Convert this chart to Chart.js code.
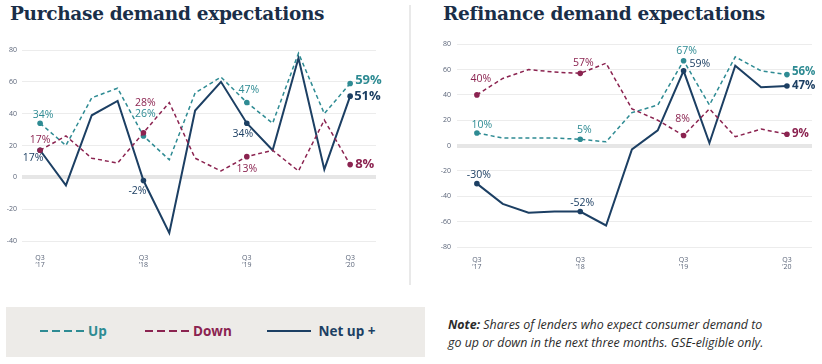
<!DOCTYPE html>
<html>
<head>
<meta charset="utf-8">
<script src="https://cdn.jsdelivr.net/npm/chart.js@4/dist/chart.umd.min.js"></script>
<style>
  body { margin: 0; width: 822px; height: 364px; background: #fff; position: relative; overflow: hidden; font-family: "Open Sans", sans-serif; }
  .title { position: absolute; top: 3px; font-family: "DejaVu Serif", serif; font-weight: bold; font-size: 18.5px; color: #1a2e48; letter-spacing: -0.3px; }
  .divider { position: absolute; left: 409px; top: 5px; width: 2px; height: 280px; background: #e9e9e9; }
  .box { position: absolute; }
  .legend { position: absolute; left: 6px; top: 307px; width: 419px; height: 50px; background: #edebe8; }
  .legend .item { position: absolute; top: 15px; font-weight: bold; font-size: 13.5px; display: flex; align-items: center; }
  .legend svg { margin-right: 2px; }
  .note { position: absolute; left: 448px; top: 316px; font-size: 12.4px; line-height: 18px; font-style: italic; color: #2b2b2b; }
</style>
</head>
<body>
<div class="title" style="left:10px">Purchase demand expectations</div>
<div class="title" style="left:443px">Refinance demand expectations</div>
<div class="divider"></div>

<div class="box" style="left:0;top:40px;width:405px;height:240px"><canvas id="purchaseChart" width="405" height="240"></canvas></div>
<div class="box" style="left:420px;top:34px;width:402px;height:250px"><canvas id="refiChart" width="402" height="250"></canvas></div>

<div class="legend">
  <div class="item" style="left:34px;color:#2e8b93"><svg width="46" height="4"><line x1="0" y1="2" x2="46" y2="2" stroke="#2e8b93" stroke-width="2" stroke-dasharray="8 4"/></svg>Up</div>
  <div class="item" style="left:139px;color:#8b2350"><svg width="46" height="4"><line x1="0" y1="2" x2="46" y2="2" stroke="#8b2350" stroke-width="2" stroke-dasharray="8 4"/></svg>Down</div>
  <div class="item" style="left:261px;color:#1c3f63"><svg width="46" height="4"><line x1="0" y1="2" x2="44" y2="2" stroke="#1c3f63" stroke-width="2"/></svg>&nbsp;Net up +</div>
</div>

<div class="note"><b>Note:</b> Shares of lenders who expect consumer demand to<br>go up or down in the next three months. GSE-eligible only.</div>

<script>
// Quarters Q3 '17 .. Q3 '20
const quarters = ["Q3 '17", "Q4 '17", "Q1 '18", "Q2 '18", "Q3 '18", "Q4 '18", "Q1 '19", "Q2 '19", "Q3 '19", "Q4 '19", "Q1 '20", "Q2 '20", "Q3 '20"];
const tickQuarters = [0, 4, 8, 12];
const tickLabels = [["Q3", "’17"], ["Q3", "’18"], ["Q3", "’19"], ["Q3", "’20"]];

// Purchase demand (%)
const purchaseUp = [34, 20, 50, 56, 26, 11, 53, 63, 47, 34, 78, 40, 59];
const purchaseDown = [17, 26, 12, 9, 28, 47, 12, 4, 13, 17, 4, 36, 8];
const purchaseNet = [17, -5, 39, 48, -2, -35, 42, 60, 34, 17, 75, 5, 51];

// Refinance demand (%)
const refiUp = [10, 6, 6, 6, 5, 3, 26, 32, 67, 32, 70, 59, 56];
const refiDown = [40, 53, 60, 58, 57, 65, 29, 20, 8, 29, 7, 13, 9];
const refiNet = [-30, -46, -53, -52, -52, -63, -3, 12, 59, 2, 63, 46, 47];

const TEAL = '#2e8b93';
const MAROON = '#8b2350';
const NAVY = '#1c3f63';

// labelled points get a dot
const markedPoints = [0, 4, 8, 12];

function toPoints(values) {
  return values.map((v, i) => ({ x: i, y: v }));
}

function makeDataset(label, values, color, dashed) {
  return {
    label,
    data: toPoints(values),
    borderColor: color,
    backgroundColor: color,
    borderWidth: dashed ? 1.5 : 2,
    borderDash: dashed ? [4, 3] : [],
    tension: 0,
    pointRadius: ctx => markedPoints.includes(ctx.dataIndex) ? 2.8 : 0,
    pointBorderWidth: 0,
    clip: false
  };
}

// Draw the % labels next to points
const pointLabels = {
  id: 'pointLabels',
  afterDatasetsDraw(chart, args, opts) {
    const ctx = chart.ctx;
    ctx.save();
    opts.items.forEach(it => {
      const pt = chart.getDatasetMeta(it.ds).data[it.i];
      ctx.font = it.big ? `bold ${opts.bigSize}px "Open Sans"` : '10.5px "Open Sans"';
      ctx.fillStyle = chart.data.datasets[it.ds].borderColor;
      ctx.textAlign = it.left ? 'left' : 'center';
      ctx.textBaseline = 'middle';
      ctx.fillText(it.text, pt.x + it.dx, pt.y + it.dy);
    });
    ctx.restore();
  }
};

function makeScales(yMin, yMax, yWidth, yPad, xMin, xMax, xHeight, xPad) {
  return {
    x: {
      type: 'linear',
      min: xMin,
      max: xMax,
      afterBuildTicks: scale => { scale.ticks = tickQuarters.map(v => ({ value: v })); },
      afterFit: scale => { scale.height = xHeight; },
      ticks: {
        autoSkip: false,
        maxRotation: 0,
        padding: xPad,
        font: { family: 'Open Sans', size: 7, lineHeight: 1.05 },
        color: '#5a6478',
        callback: (val, idx) => tickLabels[idx]
      },
      grid: { display: false },
      border: { display: false }
    },
    y: {
      min: yMin,
      max: yMax,
      afterFit: scale => { scale.width = yWidth; },
      ticks: {
        stepSize: 20,
        padding: yPad,
        font: { family: 'Open Sans', size: 7 },
        color: '#5a6478'
      },
      grid: {
        drawTicks: false,
        color: ctx => ctx.tick && ctx.tick.value === 0 ? '#e6e6e6' : '#ececec',
        lineWidth: ctx => ctx.tick && ctx.tick.value === 0 ? 4 : 1
      },
      border: { display: false }
    }
  };
}

new Chart(document.getElementById('purchaseChart'), {
  type: 'line',
  data: {
    datasets: [
      makeDataset('Down', purchaseDown, MAROON, true),
      makeDataset('Up', purchaseUp, TEAL, true),
      makeDataset('Net up +', purchaseNet, NAVY, false)
    ]
  },
  options: {
    responsive: false,
    animation: false,
    layout: { padding: { top: 10, right: 29, left: 0, bottom: 0 } },
    scales: makeScales(-40, 80, 22, 5, -0.7, 13.0, 39, 5),
    plugins: {
      legend: { display: false },
      tooltip: { enabled: false },
      pointLabels: {
        bigSize: 13,
        items: [
          { ds: 1, i: 0, text: '34%', dx: 3, dy: -8 },
          { ds: 1, i: 4, text: '26%', dx: 2, dy: -22 },
          { ds: 1, i: 8, text: '47%', dx: 2, dy: -13 },
          { ds: 1, i: 12, text: '59%', dx: 5, dy: -3, left: true, big: true },
          { ds: 0, i: 0, text: '17%', dx: 0, dy: -10 },
          { ds: 0, i: 4, text: '28%', dx: 2, dy: -30 },
          { ds: 0, i: 8, text: '13%', dx: 0, dy: 12 },
          { ds: 0, i: 12, text: '8%', dx: 5, dy: 0, left: true, big: true },
          { ds: 2, i: 0, text: '17%', dx: -7, dy: 8 },
          { ds: 2, i: 4, text: '-2%', dx: -6, dy: 10 },
          { ds: 2, i: 8, text: '34%', dx: -4, dy: 11 },
          { ds: 2, i: 12, text: '51%', dx: 4, dy: 0, left: true, big: true }
        ]
      }
    }
  },
  plugins: [pointLabels]
});

new Chart(document.getElementById('refiChart'), {
  type: 'line',
  data: {
    datasets: [
      makeDataset('Down', refiDown, MAROON, true),
      makeDataset('Up', refiUp, TEAL, true),
      makeDataset('Net up +', refiNet, NAVY, false)
    ]
  },
  options: {
    responsive: false,
    animation: false,
    layout: { padding: { top: 10, right: 10, left: 0, bottom: 0 } },
    scales: makeScales(-80, 80, 37, 6, -0.77, 12.97, 37, 1),
    plugins: {
      legend: { display: false },
      tooltip: { enabled: false },
      pointLabels: {
        bigSize: 11.5,
        items: [
          { ds: 1, i: 0, text: '10%', dx: 5, dy: -8 },
          { ds: 1, i: 4, text: '5%', dx: 4, dy: -9 },
          { ds: 1, i: 8, text: '67%', dx: 3, dy: -10 },
          { ds: 1, i: 12, text: '56%', dx: 5, dy: -3, left: true, big: true },
          { ds: 0, i: 0, text: '40%', dx: 4, dy: -16 },
          { ds: 0, i: 4, text: '57%', dx: 3, dy: -10 },
          { ds: 0, i: 8, text: '8%', dx: -1, dy: -16 },
          { ds: 0, i: 12, text: '9%', dx: 5, dy: 0, left: true, big: true },
          { ds: 2, i: 0, text: '-30%', dx: 2, dy: -9 },
          { ds: 2, i: 4, text: '-52%', dx: 2, dy: -8 },
          { ds: 2, i: 8, text: '59%', dx: 6, dy: -7, left: true },
          { ds: 2, i: 12, text: '47%', dx: 5, dy: 0, left: true, big: true }
        ]
      }
    }
  },
  plugins: [pointLabels]
});
</script>
</body>
</html>
